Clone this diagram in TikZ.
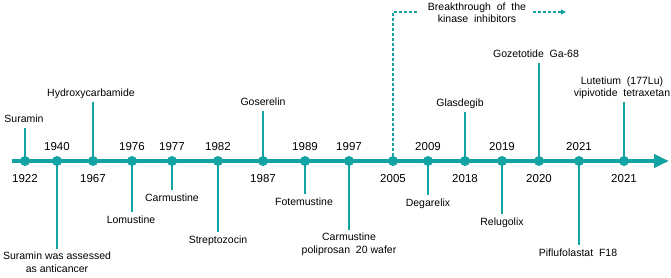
\documentclass[tikz,border=0pt]{standalone}
\usepackage{fontspec}
\setmainfont{Liberation Sans}
\usetikzlibrary{arrows.meta}
\definecolor{tealA}{RGB}{20,163,163}
\begin{document}
\begin{tikzpicture}[x=1pt,y=-1pt,
  dot/.style={circle,fill=tealA,minimum size=10pt,inner sep=0pt},
  stem/.style={draw=tealA,line width=2pt},
  axisline/.style={draw=tealA,line width=4pt,-{Triangle[length=15pt,width=13pt]}},
  brk/.style={draw=tealA,line width=1.4pt,dash pattern=on 3pt off 2pt},
  yr/.style={font=\fontsize{11.5}{13}\selectfont,inner sep=0pt,text height=8.5pt,text depth=0pt},
  lab/.style={font=\fontsize{10.5}{12.5}\selectfont,align=center,inner xsep=0pt,inner ysep=3pt,text height=8pt,text depth=2.5pt},
  labtwo/.style={font=\fontsize{10.5}{12.5}\selectfont,align=center,inner xsep=0pt,inner ysep=3pt},
]
\useasboundingbox (0,0) rectangle (671,278);
% axis
\coordinate (axL) at (12,161);
\coordinate (axR) at (669,161);
\draw[axisline] (axL) -- (axR);

% labels above
\node[lab,anchor=south] (lSuramin) at (24,128) {Suramin};
\node[lab,anchor=south] (lHydroxy) at (91,102) {Hydroxycarbamide};
\node[lab,anchor=south] (lGoserelin) at (263,111) {Goserelin};
\node[lab,anchor=south] (lGlasdegib) at (460,112) {Glasdegib};
\node[lab,anchor=south] (lGozetotide) at (536,63) {Gozetotide\ \ Ga-68};
\node[labtwo,anchor=south] (lLutetium) at (622,102) {Lutetium\ \ (177Lu)\\vipivotide\ \ tetraxetan};
% labels below
\node[labtwo,anchor=north] (lSurAss) at (57,249) {Suramin was assessed\\as anticancer};
\node[lab,anchor=north] (lLomustine) at (131,212) {Lomustine};
\node[lab,anchor=north] (lCarmustine) at (172,190) {Carmustine};
\node[lab,anchor=north] (lStrepto) at (218,232) {Streptozocin};
\node[lab,anchor=north] (lFotemustine) at (304,194) {Fotemustine};
\node[labtwo,anchor=north] (lCarmPol) at (349,230) {Carmustine\\poliprosan\ \ 20 wafer};
\node[lab,anchor=north] (lDegarelix) at (428,195) {Degarelix};
\node[lab,anchor=north] (lRelugolix) at (502,214) {Relugolix};
\node[lab,anchor=north] (lPiflu) at (578,245) {Piflufolastat\ \ F18};

% dots (coordinates first)
\coordinate (d1922) at (25,161);
\coordinate (d1940) at (57,161);
\coordinate (d1967) at (93,161);
\coordinate (d1976) at (132,161);
\coordinate (d1977) at (172,161);
\coordinate (d1982) at (218,161);
\coordinate (d1987) at (263,161);
\coordinate (d1989) at (305,161);
\coordinate (d1997) at (349,161);
\coordinate (d2005) at (393,161);
\coordinate (d2009) at (428,161);
\coordinate (d2018) at (465,161);
\coordinate (d2019) at (502,161);
\coordinate (d2020) at (539,161);
\coordinate (d2021a) at (579,161);
\coordinate (d2021b) at (624,161);

% stems
\draw[stem] (d1922) -- (d1922 |- lSuramin.south);
\draw[stem] (d1967) -- (d1967 |- lHydroxy.south);
\draw[stem] (d1987) -- (d1987 |- lGoserelin.south);
\draw[stem] (d2018) -- (d2018 |- lGlasdegib.south);
\draw[stem] (d2020) -- (d2020 |- lGozetotide.south);
\draw[stem] (d2021b) -- (d2021b |- lLutetium.south);
\draw[stem] (d1940) -- (d1940 |- lSurAss.north);
\draw[stem] (d1976) -- (d1976 |- lLomustine.north);
\draw[stem] (d1977) -- (d1977 |- lCarmustine.north);
\draw[stem] (d1982) -- (d1982 |- lStrepto.north);
\draw[stem] (d1989) -- (d1989 |- lFotemustine.north);
\draw[stem] (d1997) -- (d1997 |- lCarmPol.north);
\draw[stem] (d2009) -- (d2009 |- lDegarelix.north);
\draw[stem] (d2019) -- (d2019 |- lRelugolix.north);
\draw[stem] (d2021a) -- (d2021a |- lPiflu.north);

% breakthrough
\node[labtwo,inner ysep=0pt] (bt) at (477,12.5) {Breakthrough\ \ of\ \ the\\kinase\ \ inhibitors};
\coordinate (btL) at (418,12);
\coordinate (btR1) at (533,12);
\coordinate (btR2) at (566,12);
\draw[brk] (d2005) |- (btL);
\draw[brk,-{Triangle[length=5pt,width=5pt]}] (btR1) -- (btR2);

% dot nodes
\foreach \d in {1922,1940,1967,1976,1977,1982,1987,1989,1997,2005,2009,2018,2019,2020,2021a,2021b}
  \node[dot] (n\d) at (d\d) {};

% years
\node[yr] (y1922) at (25,178) {1922};
\node[yr] (y1940) at (57,146) {1940};
\node[yr] (y1967) at (93,178) {1967};
\node[yr] (y1976) at (132,146) {1976};
\node[yr] (y1977) at (172,146) {1977};
\node[yr] (y1982) at (218,146) {1982};
\node[yr] (y1987) at (263,178) {1987};
\node[yr] (y1989) at (305,146) {1989};
\node[yr] (y1997) at (349,146) {1997};
\node[yr] (y2005) at (393,178) {2005};
\node[yr] (y2009) at (428,146) {2009};
\node[yr] (y2018) at (465,178) {2018};
\node[yr] (y2019) at (502,146) {2019};
\node[yr] (y2020) at (539,178) {2020};
\node[yr] (y2021a) at (579,146) {2021};
\node[yr] (y2021b) at (624,178) {2021};
\end{tikzpicture}
\end{document}
